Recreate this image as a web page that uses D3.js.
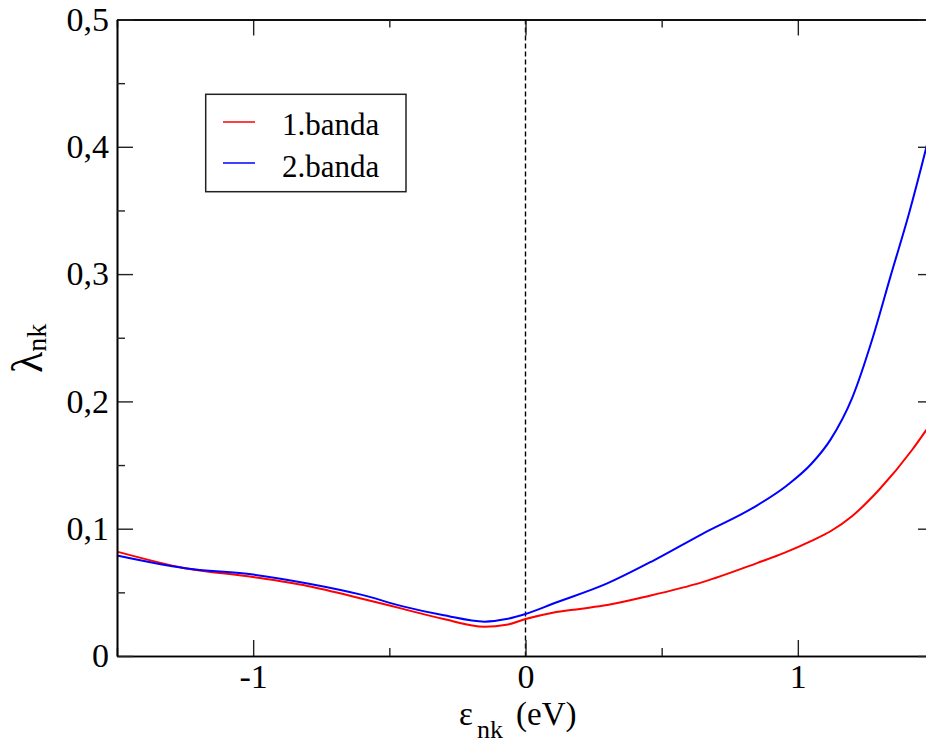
<!DOCTYPE html>
<html>
<head>
<meta charset="utf-8">
<script src="https://cdn.jsdelivr.net/npm/d3@7"></script>
<style>
  html, body { margin: 0; padding: 0; background: #fff; }
  svg { display: block; }
  svg text { font-family: 'Liberation Serif', 'Times New Roman', Times, 'DejaVu Serif', serif; fill: #000; }
</style>
</head>
<body>
<svg id="chart" width="926" height="745"></svg>
<script>
// ---- data ----
const energies1 = [-1.5, -1.25, -1.0, -0.8, -0.6, -0.45, -0.3, -0.15, -0.07, 0.0, 0.1, 0.2, 0.3, 0.45, 0.65, 0.85, 0.95, 1.05, 1.12, 1.2, 1.3, 1.42, 1.47, 1.5];
const banda1 =    [0.082, 0.069, 0.062, 0.055, 0.045, 0.037, 0.029, 0.023, 0.0245, 0.029, 0.034, 0.037, 0.040, 0.047, 0.058, 0.073, 0.081, 0.0905, 0.098, 0.110, 0.131, 0.162, 0.177, 0.186];
const energies2 = [-1.5, -1.25, -1.0, -0.8, -0.6, -0.45, -0.3, -0.15, -0.07, 0.0, 0.1, 0.3, 0.47, 0.65, 0.84, 0.96, 1.05, 1.12, 1.2, 1.275, 1.34, 1.41, 1.47, 1.5];
const banda2 =    [0.079, 0.069, 0.064, 0.057, 0.048, 0.039, 0.032, 0.027, 0.029, 0.033, 0.041, 0.057, 0.075, 0.096, 0.117, 0.134, 0.151, 0.170, 0.203, 0.250, 0.298, 0.349, 0.398, 0.424];
const seriesNames = ["1.banda", "2.banda"];
const seriesColors = ["#ff0000", "#0000ff"];
const xTicks = [-1, 0, 1];
const xMinorTicks = [-1.5, -0.5, 0.5, 1.5];
const yTicks = [0, 0.1, 0.2, 0.3, 0.4, 0.5];
const yMinorTicks = [0.05, 0.15, 0.25, 0.35, 0.45];

// ---- layout ----
const FONT = "'Liberation Serif', 'Times New Roman', Times, 'DejaVu Serif', serif";
const svg = d3.select("#chart").attr("font-family", FONT);
const L = 117, R = 934, T = 19.5, B = 656;
const x = d3.scaleLinear().domain([-1.5, 1.5]).range([L, R]);
const y = d3.scaleLinear().domain([0, 0.5]).range([B, T]);
const fmt = v => v === 0 ? "0" : String(v).replace(".", ",");

// curves
const series = [
  energies1.map((e, i) => [e, banda1[i]]),
  energies2.map((e, i) => [e, banda2[i]])
];
const line = d3.line().x(d => x(d[0])).y(d => y(d[1])).curve(d3.curveMonotoneX);

// dashed zero line
svg.append("line")
  .attr("x1", x(0)).attr("x2", x(0)).attr("y1", T).attr("y2", B)
  .attr("stroke", "#000").attr("stroke-width", 1.4).attr("stroke-dasharray", "5,3");

series.forEach((s, i) => {
  svg.append("path").datum(s).attr("d", line)
    .attr("fill", "none").attr("stroke", seriesColors[i]).attr("stroke-width", 2);
});

// axes
function styleAxis(g, labels) {
  g.attr("font-family", FONT);
  g.selectAll("path.domain").attr("stroke", "#000").attr("stroke-width", 1.6);
  g.selectAll(".tick line").attr("stroke", "#222").attr("stroke-width", 1.4);
  if (!labels) g.selectAll(".tick text").remove();
  else g.selectAll(".tick text").attr("font-size", 34).attr("fill", "#000");
}
const gB = svg.append("g").attr("transform", `translate(0,${B})`)
  .call(d3.axisBottom(x).tickValues(xTicks).tickSize(-16).tickSizeOuter(0).tickPadding(8).tickFormat(fmt));
styleAxis(gB, true);
const gBm = svg.append("g").attr("transform", `translate(0,${B})`)
  .call(d3.axisBottom(x).tickValues(xMinorTicks).tickSize(-8).tickSizeOuter(0));
styleAxis(gBm, false);
const gT = svg.append("g").attr("transform", `translate(0,${T})`)
  .call(d3.axisTop(x).tickValues(xTicks).tickSize(-16).tickSizeOuter(0));
styleAxis(gT, false);
const gTm = svg.append("g").attr("transform", `translate(0,${T})`)
  .call(d3.axisTop(x).tickValues(xMinorTicks).tickSize(-8).tickSizeOuter(0));
styleAxis(gTm, false);

const gL = svg.append("g").attr("transform", `translate(${L},0)`)
  .call(d3.axisLeft(y).tickValues(yTicks).tickSize(-16).tickSizeOuter(0).tickPadding(8).tickFormat(fmt));
styleAxis(gL, true);
const gLm = svg.append("g").attr("transform", `translate(${L},0)`)
  .call(d3.axisLeft(y).tickValues(yMinorTicks).tickSize(-8).tickSizeOuter(0));
styleAxis(gLm, false);
const gR = svg.append("g").attr("transform", `translate(${R},0)`)
  .call(d3.axisRight(y).tickValues(yTicks).tickSize(-16).tickSizeOuter(0));
styleAxis(gR, false);
const gRm = svg.append("g").attr("transform", `translate(${R},0)`)
  .call(d3.axisRight(y).tickValues(yMinorTicks).tickSize(-8).tickSizeOuter(0));
styleAxis(gRm, false);

// x axis title
const xt = svg.append("text").attr("y", 725).attr("font-size", 33);
xt.append("tspan").attr("x", 459).text("ε");
xt.append("tspan").attr("x", 477).attr("font-size", 26).attr("dy", 13).text("nk");
xt.append("tspan").attr("x", 516).attr("dy", -13).text("(eV)");

// y axis title
const yt = svg.append("text").attr("transform", "translate(42,373) rotate(-90)").attr("font-size", 44);
yt.append("tspan").text("λ");
yt.append("tspan").attr("font-size", 28).attr("dy", 4).text("nk");

// legend
const lg = svg.append("g");
lg.append("rect").attr("x", 205.7).attr("y", 94.3).attr("width", 200.3).attr("height", 97.4)
  .attr("fill", "#fff").attr("stroke", "#222").attr("stroke-width", 1.5);
seriesNames.forEach((n, i) => {
  const yy = 122 + i * 41;
  lg.append("line").attr("x1", 223).attr("x2", 255).attr("y1", yy).attr("y2", yy)
    .attr("stroke", seriesColors[i]).attr("stroke-width", 1.5);
  lg.append("text").attr("x", 282).attr("y", 135 + i * 41.5).attr("font-size", 31).text(n);
});
</script>
</body>
</html>
